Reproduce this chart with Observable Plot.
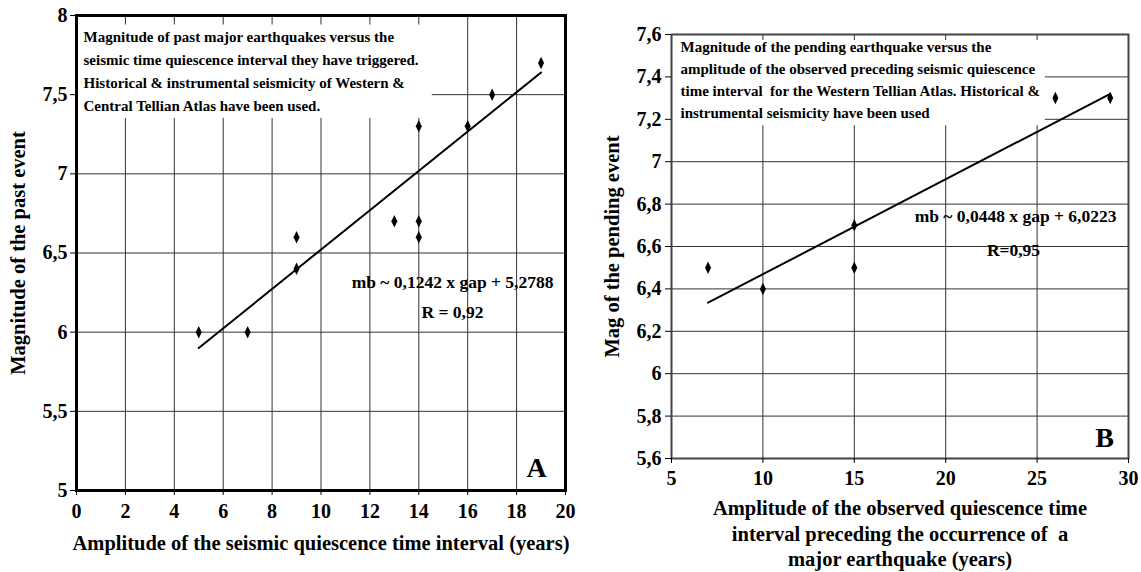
<!DOCTYPE html>
<html>
<head>
<meta charset="utf-8">
<script src="https://cdn.jsdelivr.net/npm/d3@7"></script>
<script src="https://cdn.jsdelivr.net/npm/@observablehq/plot@0.6"></script>
<style>
  html, body { margin: 0; padding: 0; background: white; }
  #wrap { position: relative; width: 1141px; height: 572px; overflow: hidden; }
  #pa { position: absolute; left: 0; top: 0; }
  #pb { position: absolute; left: 580px; top: 0; }
</style>
</head>
<body>
<div id="wrap"><div id="pa"></div><div id="pb"></div></div>
<script>
// ---------- Panel A data ----------
const gapA = [5, 7, 9, 9, 13, 14, 14, 14, 16, 17, 19];
const magA = [6.0, 6.0, 6.6, 6.4, 6.7, 7.3, 6.7, 6.6, 7.3, 7.5, 7.7];
const trendGapA = [5, 19];
const trendMagA = [5.9, 7.64];
const xTicksA = [0, 2, 4, 6, 8, 10, 12, 14, 16, 18, 20];
const yTicksA = [5, 5.5, 6, 6.5, 7, 7.5, 8];
const noteBoxA = [{x1: 0, x2: 14.55, y1: 7.35, y2: 7.94}];
const noteA = ["Magnitude of past major earthquakes versus the\nseismic time quiescence interval they have triggered.\nHistorical & instrumental seismicity of Western &\nCentral Tellian Atlas have been used."];
const eqA = ["mb ~ 0,1242 x gap + 5,2788"];
const rA = ["R = 0,92"];
const tagA = ["A"];
const xTitleA = ["Amplitude of the seismic quiescence time interval (years)"];
const yTitleA = ["Magnitude of the past event"];

// ---------- Panel B data ----------
const gapB = [7, 10, 15, 15, 26, 29];
const magB = [6.5, 6.4, 6.7, 6.5, 7.3, 7.3];
const trendGapB = [7, 29];
const trendMagB = [6.335, 7.32];
const xTicksB = [5, 10, 15, 20, 25, 30];
const yTicksB = [5.6, 5.8, 6, 6.2, 6.4, 6.6, 6.8, 7, 7.2, 7.4, 7.6];
const noteBoxB = [{x1: 5, x2: 25.45, y1: 7.17, y2: 7.572}];
const noteB = ["Magnitude of the pending earthquake versus the\namplitude of the observed preceding seismic quiescence\ntime interval  for the Western Tellian Atlas. Historical &\ninstrumental seismicity have been used"];
const eqB = ["mb ~ 0,0448 x gap + 6,0223"];
const rB = ["R=0,95"];
const tagB = ["B"];
const xTitleB = ["Amplitude of the observed quiescence time\ninterval preceding the occurrence of  a\nmajor earthquake (years)"];
const yTitleB = ["Mag of the pending event"];

const comma = d => String(d).replace(".", ",");
const FONT = "'Liberation Serif', 'Times New Roman', serif";

const tallDiamond = {
  draw(context, size) {
    const r = Math.sqrt(size / Math.PI);
    context.moveTo(0, -r * 1.25);
    context.lineTo(r * 0.6, 0);
    context.lineTo(0, r * 1.25);
    context.lineTo(-r * 0.6, 0);
    context.closePath();
  }
};

const ptsA = gapA.map((g, i) => ({gap: g, mag: magA[i]}));
const ptsB = gapB.map((g, i) => ({gap: g, mag: magB[i]}));
const lineA = trendGapA.map((g, i) => ({gap: g, mag: trendMagA[i]}));
const lineB = trendGapB.map((g, i) => ({gap: g, mag: trendMagB[i]}));

const chartA = Plot.plot({
  width: 580, height: 572,
  marginLeft: 76, marginRight: 15, marginTop: 15, marginBottom: 82,
  style: {fontFamily: FONT, fontWeight: "bold", fontSize: "17px", background: "white", color: "black", overflow: "visible"},
  x: {domain: [0, 20]},
  y: {domain: [5, 8]},
  marks: [
    Plot.gridX(xTicksA, {stroke: "#333", strokeOpacity: 1, strokeWidth: 1}),
    Plot.gridY(yTicksA, {stroke: "#333", strokeOpacity: 1, strokeWidth: 1}),
    Plot.rect(noteBoxA, {x1: "x1", x2: "x2", y1: "y1", y2: "y2", fill: "white"}),
    Plot.frame({stroke: "black", strokeWidth: 3}),
    Plot.axisX(xTicksA, {tickSize: 5, tickFormat: () => "", label: null, stroke: "black"}),
    Plot.axisY(yTicksA, {tickSize: 6, tickFormat: () => "", label: null, stroke: "black"}),
    Plot.text(xTicksA, {x: d => d, text: d => String(d), frameAnchor: "bottom", dy: 21, lineAnchor: "middle", textAnchor: "middle", fontSize: 20, fontWeight: "bold"}),
    Plot.text(yTicksA, {y: d => d, text: comma, frameAnchor: "left", dx: -9, textAnchor: "end", lineAnchor: "middle", fontSize: 20, fontWeight: "bold"}),
    Plot.line(lineA, {x: "gap", y: "mag", stroke: "black", strokeWidth: 2}),
    Plot.dot(ptsA, {x: "gap", y: "mag", symbol: tallDiamond, r: 5, fill: "black", stroke: "none"}),
    Plot.text(noteA, {text: d => d, frameAnchor: "top-left", dx: 7, dy: 10, textAnchor: "start", lineAnchor: "top", lineHeight: 1.53, fontSize: 15, fontWeight: "bold"}),
    Plot.text(eqA, {text: d => d, frameAnchor: "right", dx: -12, dy: 29, textAnchor: "end", fontSize: 17.5, fontWeight: "bold"}),
    Plot.text(rA, {text: d => d, frameAnchor: "right", dx: -113, dy: 59, textAnchor: "middle", fontSize: 17.5, fontWeight: "bold"}),
    Plot.text(tagA, {text: d => d, frameAnchor: "bottom-right", dx: -29, dy: -22, textAnchor: "middle", lineAnchor: "middle", fontSize: 28, fontWeight: "bold"}),
    Plot.text(xTitleA, {text: d => d, frameAnchor: "bottom", dy: 53, lineAnchor: "middle", fontSize: 20.5, fontWeight: "bold"}),
    Plot.text(yTitleA, {text: d => d, frameAnchor: "left", dx: -58, rotate: -90, textAnchor: "middle", lineAnchor: "middle", fontSize: 20.5, fontWeight: "bold"})
  ]
});
document.getElementById("pa").appendChild(chartA);

const chartB = Plot.plot({
  width: 561, height: 572,
  marginLeft: 91, marginRight: 13, marginTop: 34, marginBottom: 114,
  style: {fontFamily: FONT, fontWeight: "bold", fontSize: "17px", background: "white", color: "black", overflow: "visible"},
  x: {domain: [5, 30]},
  y: {domain: [5.6, 7.6]},
  marks: [
    Plot.gridX(xTicksB, {stroke: "#333", strokeOpacity: 1, strokeWidth: 1}),
    Plot.gridY(yTicksB, {stroke: "#333", strokeOpacity: 1, strokeWidth: 1}),
    Plot.rect(noteBoxB, {x1: "x1", x2: "x2", y1: "y1", y2: "y2", fill: "white"}),
    Plot.frame({stroke: "#444", strokeWidth: 2}),
    Plot.axisX(xTicksB, {tickSize: 5, tickFormat: () => "", label: null, stroke: "black"}),
    Plot.axisY(yTicksB, {tickSize: 6, tickFormat: () => "", label: null, stroke: "black"}),
    Plot.text(xTicksB, {x: d => d, text: d => String(d), frameAnchor: "bottom", dy: 20, lineAnchor: "middle", textAnchor: "middle", fontSize: 20, fontWeight: "bold"}),
    Plot.text(yTicksB, {y: d => d, text: comma, frameAnchor: "left", dx: -10, textAnchor: "end", lineAnchor: "middle", fontSize: 20, fontWeight: "bold"}),
    Plot.line(lineB, {x: "gap", y: "mag", stroke: "black", strokeWidth: 2}),
    Plot.dot(ptsB, {x: "gap", y: "mag", symbol: tallDiamond, r: 5, fill: "black", stroke: "none"}),
    Plot.text(noteB, {text: d => d, frameAnchor: "top-left", dx: 9, dy: 2, textAnchor: "start", lineAnchor: "top", lineHeight: 1.47, fontSize: 15, fontWeight: "bold"}),
    Plot.text(eqB, {text: d => d, frameAnchor: "right", dx: -12, dy: -30, textAnchor: "end", fontSize: 17.5, fontWeight: "bold"}),
    Plot.text(rB, {text: d => d, frameAnchor: "right", dx: -115, dy: 4, textAnchor: "middle", fontSize: 17.5, fontWeight: "bold"}),
    Plot.text(tagB, {text: d => d, frameAnchor: "bottom-right", dx: -24, dy: -20, textAnchor: "middle", lineAnchor: "middle", fontSize: 28, fontWeight: "bold"}),
    Plot.text(xTitleB, {text: d => d, frameAnchor: "bottom", dy: 74, lineAnchor: "middle", lineHeight: 1.24, fontSize: 20.5, fontWeight: "bold"}),
    Plot.text(yTitleB, {text: d => d, frameAnchor: "left", dx: -59, rotate: -90, textAnchor: "middle", lineAnchor: "middle", fontSize: 20.5, fontWeight: "bold"})
  ]
});
document.getElementById("pb").appendChild(chartB);
</script>
</body>
</html>
